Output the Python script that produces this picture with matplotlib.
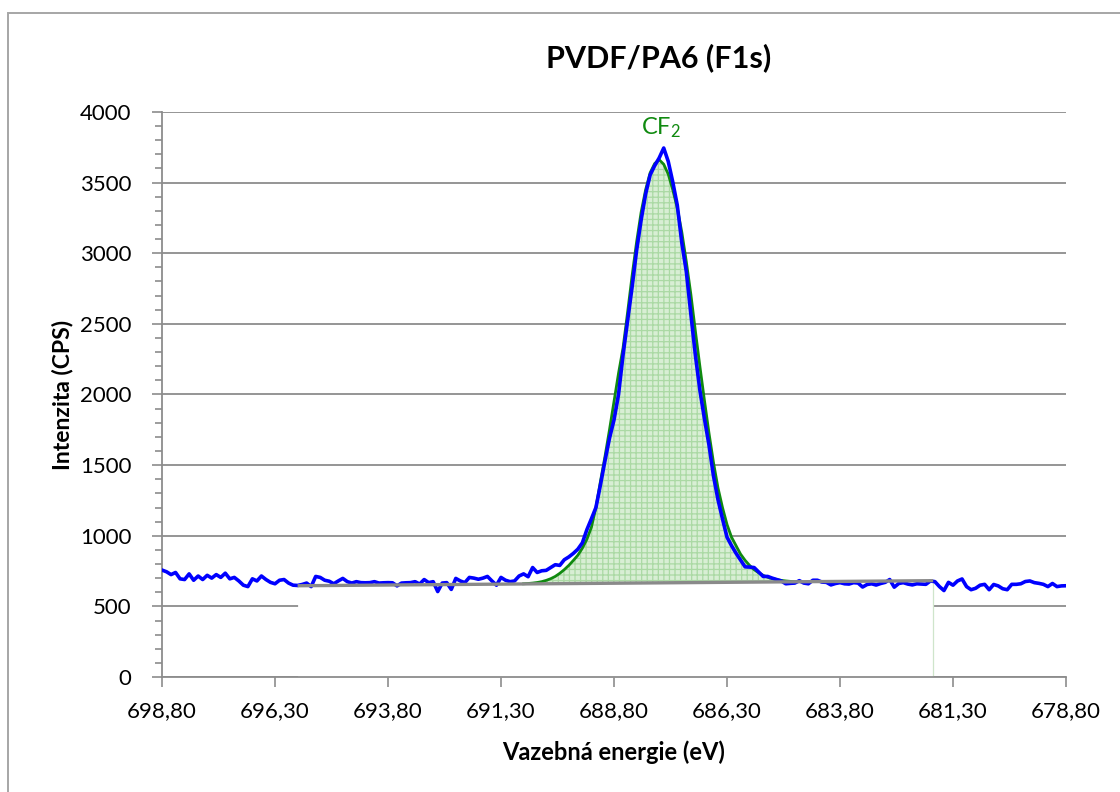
import matplotlib
matplotlib.use('Agg')
import matplotlib.pyplot as plt
from matplotlib.patches import Rectangle
from matplotlib.ticker import FuncFormatter, MultipleLocator
import numpy as np

plt.rcParams['font.family'] = ['Lato', 'DejaVu Sans']
plt.rcParams['mathtext.fontset'] = 'custom'
plt.rcParams['mathtext.rm'] = 'Lato'
plt.rcParams['hatch.linewidth'] = 0.9

# binding energy axis, 0.1 eV step
energy = np.linspace(698.8, 678.8, 201)

# measured F1s spectrum (CPS)
counts = [
    757, 745, 725, 740, 695, 690, 730, 685, 715, 690,
    720, 700, 725, 705, 735, 695, 705, 680, 650, 640,
    695, 680, 715, 690, 670, 660, 685, 690, 665, 650,
    648, 655, 665, 640, 712, 705, 685, 678, 660, 680,
    698, 675, 665, 675, 668, 667, 668, 675, 665, 667,
    668, 667, 645, 665, 667, 668, 675, 658, 690, 668,
    675, 605, 665, 668, 620, 698, 680, 668, 705, 700,
    692, 700, 712, 680, 650, 705, 685, 675, 680, 715,
    730, 710, 775, 740, 752, 755, 775, 795, 790, 830,
    850, 875, 905, 950, 1043, 1120, 1200, 1360, 1530, 1690,
    1820, 2000, 2280, 2520, 2760, 3020, 3235, 3420, 3555, 3620,
    3675, 3745, 3650, 3505, 3340, 3075, 2870, 2570, 2280, 2030,
    1830, 1645, 1425, 1256, 1120, 990, 930, 876, 828, 780,
    778, 775, 744, 712, 712, 700, 690, 680, 660, 663,
    665, 682, 665, 660, 685, 685, 672, 670, 652, 662,
    668, 660, 658, 668, 665, 637, 655, 660, 651, 662,
    670, 690, 636, 662, 668, 658, 652, 660, 658, 656,
    680, 675, 640, 612, 670, 650, 680, 694, 640, 618,
    628, 650, 656, 618, 655, 645, 625, 618, 656, 656,
    660, 676, 680, 668, 663, 656, 640, 662, 640, 645,
    646,
]

# CF2 fitted component (690.8 .. 684.8 eV)
fit_energy = energy[80:141]
fit_counts = [
    660, 662, 665, 669, 675, 684, 696, 712, 734, 760,
    790, 825, 862, 912, 975, 1060, 1200, 1385, 1560, 1750,
    1950, 2150, 2330, 2580, 2840, 3080, 3290, 3450, 3570, 3635,
    3662, 3630, 3560, 3450, 3320, 3150, 2940, 2710, 2450, 2200,
    1960, 1730, 1520, 1340, 1200, 1080, 990, 930, 870, 826,
    790, 760, 738, 720, 706, 697, 690, 684, 680, 677, 675,
]

# background line end points
base_energy = [695.80, 681.74]
base_counts = [646, 682]

title = 'PVDF/PA6 (F1s)'
xlabel = 'Vazebná energie (eV)'
ylabel = 'Intenzita (CPS)'
xticks = [698.8, 696.3, 693.8, 691.3, 688.8, 686.3, 683.8, 681.3, 678.8]

fig = plt.figure(figsize=(11.2, 7.92), dpi=100)
ax = fig.add_axes([162 / 1120, 115 / 792, 904 / 1120, 565 / 792])

grey = '#8c8c8c'
ax.set_axisbelow(True)
ax.grid(axis='y', color=grey, lw=1.3)
ax.grid(axis='x', visible=False)

# white area under the background line
bx = np.linspace(base_energy[0], base_energy[1], 50)
by = np.interp(bx, base_energy[::-1], base_counts[::-1])
ax.fill_between(bx, 0, by, color='white', lw=0, zorder=1)
ax.vlines(base_energy[1], 0, base_counts[1], color='#cfe5cb', lw=0.9, zorder=1.2)

# peak fill
fb = np.interp(fit_energy, base_energy[::-1], base_counts[::-1])
ax.fill_between(fit_energy, fb, fit_counts, facecolor='#d8eed4', edgecolor='#abd9a4',
                hatch='+++', lw=0, zorder=2)

ax.plot(energy, counts, color='#0000ff', lw=2.6, zorder=4)
ax.plot(fit_energy, fit_counts, color='#108a10', lw=2.0, zorder=3)
ax.plot(base_energy, base_counts, color='#8a8a8a', lw=2.4, zorder=5, solid_capstyle='butt')

ax.text(687.75, 3800, r'$\mathregular{CF_2}$', color='#108a10', fontsize=17,
        ha='center', va='bottom', zorder=6)

ax.set_xlim(698.8, 678.8)
ax.set_ylim(0, 4000)
ax.set_xticks(xticks)
ax.xaxis.set_major_formatter(FuncFormatter(lambda v, p: f'{v:.2f}'.replace('.', ',')))
ax.yaxis.set_major_locator(MultipleLocator(500))
ax.yaxis.set_minor_locator(MultipleLocator(100))

for s in ['top', 'right']:
    ax.spines[s].set_visible(False)
for s in ['left', 'bottom']:
    ax.spines[s].set_color(grey)
    ax.spines[s].set_linewidth(1.3)

ax.tick_params(axis='both', which='both', direction='out', color=grey, width=1.2)
ax.tick_params(axis='x', which='major', length=7, pad=10, labelsize=16)
ax.tick_params(axis='y', which='major', length=7, pad=15, labelsize=16)
ax.tick_params(axis='y', which='minor', length=5)

ax.set_xlabel(xlabel, fontsize=17, fontweight='bold', labelpad=14)
ax.set_ylabel(ylabel, fontsize=16.5, fontweight='bold', labelpad=5)

fig.text(659 / 1120, 1 - 58 / 792, title, fontsize=22, fontweight='bold',
         ha='center', va='center')

# chart frame
fig.patches.append(Rectangle((8 / 1120, -0.2), 1.2, 1.2 - 13 / 792, transform=fig.transFigure,
                             fill=False, edgecolor='#a6a6a6', lw=1.4))

fig.savefig('out.png', dpi=100)
